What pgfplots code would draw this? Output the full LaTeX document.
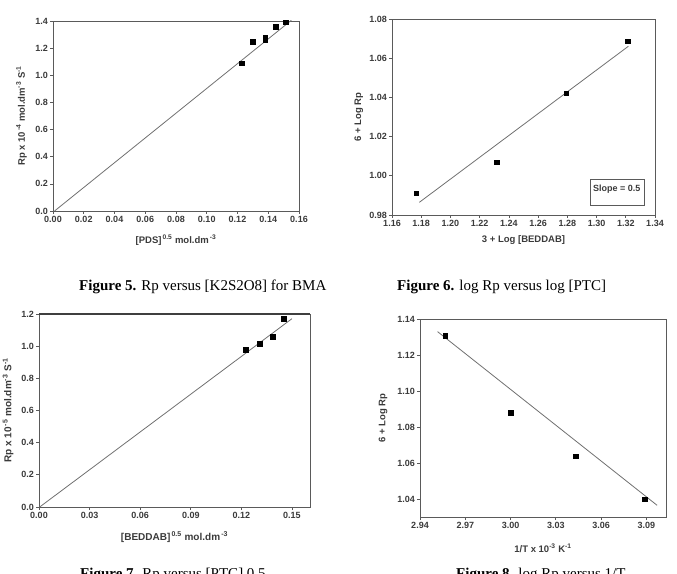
\documentclass[border=0pt]{standalone}
\usepackage{fontspec}
\setmainfont{Liberation Serif}
\setsansfont{Liberation Sans}
\usepackage{pgfplots}
\pgfplotsset{compat=1.18}

\definecolor{axgray}{HTML}{5A5A5A}
\definecolor{txtgray}{HTML}{3A3A3A}
\definecolor{fitgray}{HTML}{707070}

\pgfplotsset{
  kin/.style={
    scale only axis,
    axis line style={draw=axgray, line width=0.7pt},
    tick pos=left,
    tick align=outside,
    major tick length=3pt,
    every tick/.style={draw=axgray, line width=0.7pt},
    ticklabel style={font=\sffamily\bfseries\fontsize{9}{10}\selectfont, text=txtgray, inner sep=2pt},
    label style={font=\sffamily\bfseries\fontsize{9.5}{11}\selectfont, text=txtgray},
    /pgf/number format/assume math mode=true,
    /pgf/number format/fixed,
    /pgf/number format/fixed zerofill,
    /pgf/number format/precision=2,
    scaled ticks=false,
  },
  pts/.style={only marks, mark=square*, mark size=2.3pt, black},
  fit/.style={fitgray, line width=0.8pt, no marks},
}

\begin{document}
\begin{tikzpicture}[x=1pt, y=1pt]
\useasboundingbox (0,0) rectangle (677,573);
\clip (0,0) rectangle (677,573);

% Rp against [PDS]^0.5
\begin{axis}[kin, at={(53pt,362pt)}, anchor=south west, width=246pt, height=190pt,
  xmin=0, xmax=0.16, ymin=0, ymax=1.4,
  xtick={0,0.02,0.04,0.06,0.08,0.10,0.12,0.14,0.16},
  ytick={0,0.2,0.4,0.6,0.8,1.0,1.2,1.4},
  yticklabel style={/pgf/number format/precision=1},
  xlabel={[PDS]\textsuperscript{\,0.5} mol.dm\textsuperscript{\,-3}},
  ylabel={Rp x 10\textsuperscript{\,-4} mol.dm\textsuperscript{-3} S\textsuperscript{-1}},
  xlabel style={at={(axis description cs:0.5,-0.153)}, anchor=center},
  ylabel style={at={(axis description cs:-0.128,0.5)}, anchor=center},
]
\addplot[fit] coordinates {(0.001,0) (0.155,1.405)};
\addplot[pts] coordinates {
  (0.1227,1.090) (0.1300,1.248) (0.1379,1.275) (0.1379,1.262)
  (0.1450,1.356) (0.1515,1.390)};
\end{axis}

% 6 + log Rp against 3 + log [BEDDAB]
\begin{axis}[kin, at={(392pt,358pt)}, anchor=south west, width=263pt, height=196pt,
  xmin=1.16, xmax=1.34, ymin=0.98, ymax=1.08,
  xtick={1.16,1.18,1.20,1.22,1.24,1.26,1.28,1.30,1.32,1.34},
  ytick={0.98,1.00,1.02,1.04,1.06,1.08},
  xlabel={3 + Log [BEDDAB]},
  ylabel={6 + Log Rp},
  xlabel style={at={(axis description cs:0.5,-0.128)}, anchor=center},
  ylabel style={at={(axis description cs:-0.126,0.5)}, anchor=center},
]
\addplot[fit] coordinates {(1.1787,0.98646) (1.3218,1.0661)};
\addplot[pts] coordinates {
  (1.1766,0.9912) (1.2315,1.0069) (1.2792,1.0421) (1.3215,1.0686)};
\draw[axgray, line width=0.6pt] (axis cs:1.296,0.9848) rectangle (axis cs:1.3325,0.998);
\node[anchor=west, inner sep=0pt, font=\sffamily\bfseries\fontsize{9}{10}\selectfont, text=txtgray]
  at (axis cs:1.2975,0.9933) {Slope = 0.5};
\end{axis}

% Rp against [BEDDAB]^0.5
\begin{axis}[kin, at={(39pt,66pt)}, anchor=south west, width=271pt, height=193pt,
  xmin=0, xmax=0.1607, ymin=0, ymax=1.2,
  xtick={0,0.03,0.06,0.09,0.12,0.15},
  ytick={0,0.2,0.4,0.6,0.8,1.0,1.2},
  yticklabel style={/pgf/number format/precision=1},
  xlabel={[BEDDAB]\textsuperscript{\,0.5} mol.dm\textsuperscript{\,-3}},
  ylabel={Rp x 10\textsuperscript{\,-5} mol.dm\textsuperscript{-3} S\textsuperscript{-1}},
  label style={font=\sffamily\bfseries\fontsize{10}{12}\selectfont},
  xlabel style={at={(axis description cs:0.5,-0.155)}, anchor=center},
  ylabel style={at={(axis description cs:-0.114,0.5)}, anchor=center},
  after end axis/.code={
    \draw[axgray!70!black, line width=1.5pt] (rel axis cs:0,1) -- (rel axis cs:1,1);
  },
]
\addplot[fit] coordinates {(0.0004,0) (0.150,1.171)};
\addplot[pts, mark size=2.5pt] coordinates {
  (0.1227,0.980) (0.1306,1.015) (0.1383,1.059) (0.1450,1.169)};
\end{axis}

% 6 + log Rp against 1/T
\begin{axis}[kin, at={(420pt,56pt)}, anchor=south west, width=246pt, height=198pt,
  xmin=2.94, xmax=3.103, ymin=1.03, ymax=1.14,
  xtick={2.94,2.97,3.00,3.03,3.06,3.09},
  ytick={1.04,1.06,1.08,1.10,1.12,1.14},
  xlabel={1/T x 10\textsuperscript{-3} K\textsuperscript{-1}},
  ylabel={6 + Log Rp},
  xlabel style={at={(axis description cs:0.5,-0.157)}, anchor=center},
  ylabel style={at={(axis description cs:-0.150,0.5)}, anchor=center},
]
\addplot[fit] coordinates {(2.9516,1.1330) (3.0971,1.0365)};
\addplot[pts] coordinates {
  (2.9567,1.1306) (3.0002,1.0878) (3.0433,1.0637) (3.0887,1.0400)};
\end{axis}

% captions
\begin{scope}[every node/.style={anchor=base west, inner sep=0pt, font=\fontsize{15}{18}\selectfont}]
\node at (79,282) {\textbf{Figure 5.} Rp versus [K2S2O8] for BMA};
\node at (397,282) {\textbf{Figure 6.} log Rp versus log [PTC]};
\node at (80,-5) {\textbf{Figure 7.} Rp versus [PTC] 0.5};
\node at (456,-5) {\textbf{Figure 8.} log Rp versus 1/T};
\end{scope}
\end{tikzpicture}
\end{document}
